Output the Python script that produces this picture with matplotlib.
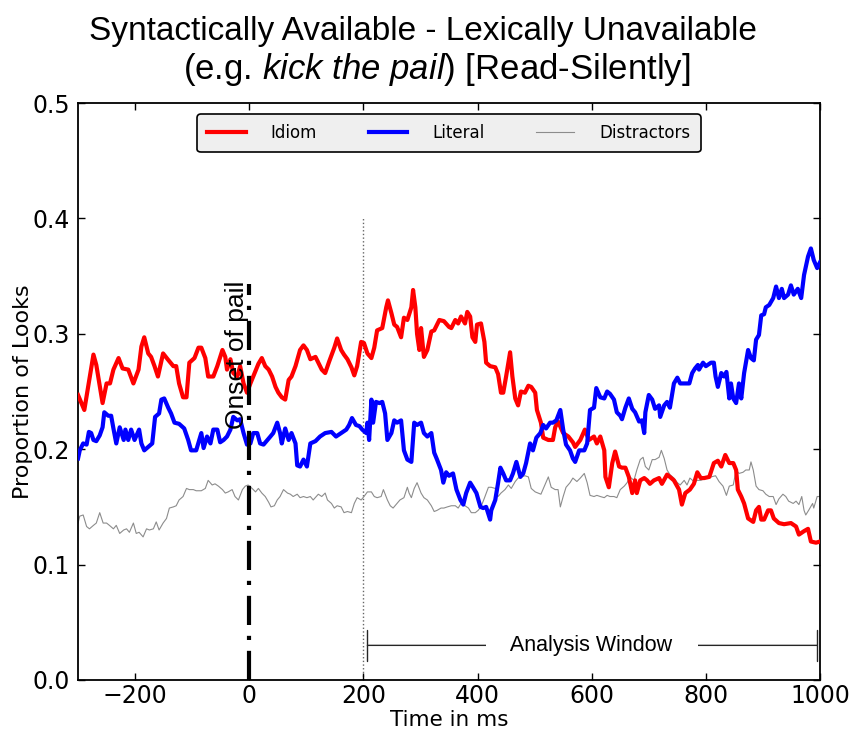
import matplotlib
matplotlib.use("Agg")
import matplotlib.pyplot as plt

# time (ms) / proportion pairs
idiom_t = [-300, -289, -273, -268, -257, -250, -244, -238, -229, -222, -212, -203, -194, -189, -184, -177, -172, -166,
           -160, -151, -143, -133, -128, -123, -116, -110, -105, -96, -89, -84, -77, -72, -63, -56, -47, -42, -39, -33,
           -28, -21, -16, -10, -4, 2, 7, 16, 22, 28, 34, 40, 46, 51, 57, 63, 69, 74, 81, 89, 95, 101, 107, 116, 121,
           127, 133, 140, 149, 154, 161, 166, 172, 179, 184, 189, 196, 201, 207, 214, 219, 224, 233, 240, 243, 249,
           254, 259, 266, 271, 277, 284, 287, 291, 294, 298, 301, 306, 312, 319, 324, 333, 341, 350, 354, 361, 366,
           371, 378, 382, 387, 391, 396, 399, 406, 412, 415, 422, 431, 436, 441, 445, 450, 457, 461, 466, 471, 476,
           483, 489, 494, 501, 504, 511, 515, 524, 532, 536, 541, 550, 559, 567, 571, 580, 588, 595, 604, 609, 615,
           622, 624, 630, 636, 641, 648, 653, 659, 665, 671, 676, 679, 685, 692, 697, 702, 709, 718, 723, 732, 737,
           744, 753, 758, 764, 772, 779, 785, 791, 797, 806, 814, 821, 827, 834, 841, 848, 853, 856, 862, 867, 874,
           883, 888, 893, 897, 902, 909, 914, 919, 928, 937, 949, 958, 963, 972, 979, 984, 993, 1000]
idiom_y = [0.247, 0.234, 0.282, 0.273, 0.240, 0.257, 0.257, 0.269, 0.279, 0.270, 0.269, 0.257, 0.269, 0.289, 0.297,
           0.283, 0.280, 0.272, 0.263, 0.283, 0.278, 0.272, 0.272, 0.257, 0.245, 0.245, 0.275, 0.279, 0.288, 0.288,
           0.279, 0.263, 0.263, 0.272, 0.286, 0.280, 0.269, 0.278, 0.266, 0.263, 0.272, 0.257, 0.249, 0.257, 0.263,
           0.274, 0.279, 0.272, 0.269, 0.263, 0.254, 0.249, 0.245, 0.243, 0.260, 0.263, 0.272, 0.286, 0.290, 0.286,
           0.278, 0.280, 0.275, 0.269, 0.266, 0.276, 0.288, 0.296, 0.286, 0.282, 0.278, 0.271, 0.264, 0.272, 0.293,
           0.292, 0.283, 0.279, 0.288, 0.303, 0.305, 0.323, 0.329, 0.318, 0.308, 0.306, 0.297, 0.314, 0.312, 0.323,
           0.338, 0.323, 0.300, 0.286, 0.305, 0.280, 0.286, 0.302, 0.303, 0.312, 0.311, 0.306, 0.305, 0.312, 0.309,
           0.315, 0.309, 0.319, 0.315, 0.297, 0.293, 0.308, 0.309, 0.293, 0.275, 0.272, 0.271, 0.265, 0.249, 0.249,
           0.263, 0.284, 0.263, 0.244, 0.238, 0.250, 0.249, 0.255, 0.254, 0.249, 0.234, 0.223, 0.210, 0.208, 0.208,
           0.219, 0.224, 0.214, 0.211, 0.206, 0.202, 0.208, 0.217, 0.208, 0.211, 0.205, 0.211, 0.199, 0.176, 0.167,
           0.188, 0.198, 0.185, 0.184, 0.184, 0.176, 0.162, 0.173, 0.162, 0.173, 0.175, 0.173, 0.170, 0.173, 0.175,
           0.170, 0.178, 0.176, 0.173, 0.165, 0.152, 0.162, 0.165, 0.170, 0.180, 0.175, 0.175, 0.176, 0.188, 0.190,
           0.185, 0.195, 0.188, 0.188, 0.182, 0.165, 0.159, 0.153, 0.140, 0.137, 0.147, 0.150, 0.139, 0.139, 0.147,
           0.147, 0.140, 0.136, 0.135, 0.136, 0.133, 0.126, 0.129, 0.131, 0.120, 0.119, 0.120]

literal_t = [-300, -297, -291, -285, -281, -277, -273, -268, -262, -257, -254, -247, -242, -238, -233, -227, -220, -217,
             -212, -207, -201, -193, -189, -184, -177, -170, -165, -158, -154, -149, -142, -137, -131, -123, -114, -107,
             -102, -93, -84, -80, -74, -68, -63, -56, -51, -45, -39, -33, -28, -21, -16, -10, -4, 2, 7, 14, 19, 25, 32,
             37, 42, 49, 54, 57, 63, 69, 74, 81, 84, 89, 95, 101, 107, 116, 124, 133, 144, 152, 161, 170, 175, 180, 187,
             193, 198, 205, 207, 210, 214, 217, 222, 228, 233, 238, 242, 249, 254, 259, 266, 271, 277, 284, 289, 294,
             301, 306, 312, 319, 324, 329, 336, 340, 345, 350, 357, 363, 370, 375, 380, 387, 392, 398, 405, 410, 415,
             422, 424, 431, 436, 440, 445, 450, 457, 462, 468, 475, 480, 485, 492, 497, 503, 510, 515, 520, 527, 532,
             538, 545, 550, 555, 562, 567, 571, 578, 587, 592, 597, 604, 608, 615, 622, 627, 632, 639, 644, 650, 653,
             659, 665, 671, 676, 683, 688, 692, 694, 700, 706, 711, 718, 720, 727, 732, 737, 744, 750, 755, 764, 771,
             776, 781, 786, 788, 795, 800, 809, 814, 817, 821, 827, 832, 836, 841, 844, 848, 853, 858, 862, 867, 874,
             879, 884, 888, 893, 897, 902, 905, 911, 918, 923, 928, 933, 937, 944, 949, 954, 961, 967, 972, 979, 984,
             989, 995, 1000]
literal_y = [0.192, 0.199, 0.205, 0.204, 0.215, 0.214, 0.208, 0.207, 0.212, 0.219, 0.232, 0.229, 0.229, 0.218, 0.205,
             0.219, 0.208, 0.217, 0.208, 0.217, 0.208, 0.217, 0.205, 0.199, 0.202, 0.205, 0.228, 0.231, 0.243, 0.244,
             0.236, 0.231, 0.223, 0.222, 0.218, 0.208, 0.199, 0.199, 0.214, 0.201, 0.211, 0.205, 0.217, 0.217, 0.206,
             0.208, 0.211, 0.217, 0.228, 0.225, 0.226, 0.214, 0.204, 0.205, 0.214, 0.214, 0.205, 0.204, 0.208, 0.211,
             0.214, 0.223, 0.214, 0.205, 0.218, 0.208, 0.214, 0.205, 0.186, 0.185, 0.191, 0.185, 0.205, 0.207, 0.211,
             0.214, 0.215, 0.211, 0.214, 0.217, 0.221, 0.227, 0.221, 0.220, 0.217, 0.214, 0.223, 0.208, 0.243, 0.223,
             0.241, 0.240, 0.241, 0.231, 0.208, 0.214, 0.225, 0.223, 0.225, 0.199, 0.191, 0.189, 0.223, 0.221, 0.223,
             0.214, 0.211, 0.214, 0.197, 0.191, 0.182, 0.171, 0.180, 0.177, 0.179, 0.165, 0.156, 0.152, 0.162, 0.171,
             0.167, 0.162, 0.150, 0.149, 0.150, 0.139, 0.147, 0.156, 0.171, 0.184, 0.179, 0.173, 0.173, 0.179, 0.189,
             0.176, 0.179, 0.188, 0.205, 0.199, 0.210, 0.214, 0.221, 0.218, 0.223, 0.223, 0.225, 0.234, 0.217, 0.204,
             0.199, 0.192, 0.189, 0.199, 0.199, 0.205, 0.234, 0.236, 0.253, 0.245, 0.244, 0.250, 0.248, 0.243, 0.232,
             0.229, 0.226, 0.236, 0.244, 0.235, 0.232, 0.224, 0.225, 0.214, 0.232, 0.247, 0.243, 0.235, 0.238, 0.228,
             0.238, 0.241, 0.236, 0.257, 0.262, 0.257, 0.257, 0.257, 0.266, 0.270, 0.273, 0.269, 0.275, 0.272, 0.275,
             0.275, 0.263, 0.254, 0.266, 0.263, 0.267, 0.244, 0.257, 0.244, 0.240, 0.257, 0.244, 0.266, 0.286, 0.279,
             0.277, 0.295, 0.299, 0.316, 0.317, 0.323, 0.325, 0.331, 0.341, 0.331, 0.339, 0.331, 0.334, 0.342, 0.334,
             0.339, 0.331, 0.351, 0.367, 0.374, 0.364, 0.357, 0.362]

distr_t = [-300, -297, -291, -285, -280, -273, -268, -262, -256, -250, -245, -238, -233, -227, -220, -215, -210, -203,
           -198, -193, -186, -180, -175, -168, -163, -158, -151, -145, -140, -133, -128, -123, -116, -110, -105, -98,
           -93, -84, -77, -72, -65, -60, -54, -47, -42, -37, -30, -25, -19, -12, -7, -2, 5, 11, 16, 22, 28, 34, 38,
           44, 49, 54, 60, 67, 72, 77, 84, 89, 95, 101, 107, 112, 121, 127, 133, 137, 144, 149, 154, 161, 166, 172,
           179, 184, 189, 196, 201, 207, 214, 219, 224, 231, 235, 242, 247, 252, 259, 264, 271, 277, 280, 284, 289,
           294, 301, 306, 312, 319, 324, 329, 336, 341, 347, 354, 361, 366, 371, 378, 384, 389, 396, 401, 406, 413,
           419, 424, 431, 436, 441, 448, 454, 459, 466, 471, 476, 483, 489, 494, 501, 506, 511, 518, 524, 529, 536,
           541, 545, 550, 555, 562, 567, 574, 580, 587, 592, 597, 604, 609, 615, 622, 627, 632, 639, 644, 650, 657,
           662, 667, 674, 679, 685, 690, 694, 700, 706, 711, 718, 722, 727, 732, 737, 744, 750, 755, 762, 767, 772,
           779, 785, 791, 800, 809, 817, 823, 830, 836, 841, 848, 853, 858, 865, 870, 876, 879, 883, 888, 893, 900,
           905, 911, 918, 923, 928, 935, 940, 945, 953, 958, 963, 968, 972, 975, 980, 987, 989, 995, 1000]
distr_y = [0.136, 0.142, 0.143, 0.133, 0.131, 0.134, 0.136, 0.145, 0.136, 0.136, 0.134, 0.131, 0.134, 0.127, 0.130,
           0.131, 0.128, 0.136, 0.127, 0.128, 0.124, 0.131, 0.130, 0.131, 0.137, 0.130, 0.136, 0.140, 0.149, 0.150,
           0.151, 0.156, 0.159, 0.166, 0.165, 0.165, 0.164, 0.164, 0.166, 0.173, 0.169, 0.170, 0.168, 0.165, 0.162,
           0.163, 0.165, 0.159, 0.156, 0.165, 0.168, 0.169, 0.166, 0.163, 0.166, 0.162, 0.159, 0.154, 0.150, 0.151,
           0.156, 0.159, 0.165, 0.162, 0.161, 0.159, 0.161, 0.158, 0.159, 0.158, 0.159, 0.156, 0.161, 0.159, 0.162,
           0.156, 0.153, 0.149, 0.151, 0.150, 0.145, 0.146, 0.145, 0.153, 0.158, 0.156, 0.159, 0.163, 0.163, 0.159,
           0.158, 0.159, 0.165, 0.156, 0.151, 0.149, 0.153, 0.156, 0.158, 0.167, 0.162, 0.158, 0.166, 0.171, 0.162,
           0.158, 0.156, 0.151, 0.146, 0.147, 0.149, 0.149, 0.150, 0.151, 0.151, 0.149, 0.153, 0.151, 0.149, 0.145,
           0.145, 0.147, 0.150, 0.159, 0.167, 0.167, 0.166, 0.159, 0.162, 0.165, 0.169, 0.166, 0.172, 0.175, 0.176,
           0.177, 0.176, 0.166, 0.163, 0.162, 0.161, 0.169, 0.176, 0.167, 0.165, 0.165, 0.150, 0.159, 0.167, 0.171,
           0.175, 0.172, 0.175, 0.179, 0.171, 0.160, 0.159, 0.160, 0.159, 0.158, 0.160, 0.159, 0.159, 0.158, 0.165,
           0.168, 0.171, 0.176, 0.173, 0.182, 0.191, 0.193, 0.185, 0.182, 0.191, 0.191, 0.193, 0.199, 0.192, 0.182,
           0.178, 0.175, 0.171, 0.169, 0.173, 0.169, 0.175, 0.172, 0.173, 0.173, 0.175, 0.176, 0.177, 0.172, 0.168,
           0.160, 0.168, 0.169, 0.182, 0.179, 0.180, 0.182, 0.182, 0.189, 0.182, 0.168, 0.165, 0.164, 0.161, 0.159,
           0.159, 0.152, 0.157, 0.161, 0.159, 0.155, 0.153, 0.155, 0.152, 0.159, 0.147, 0.143, 0.147, 0.153, 0.149,
           0.159, 0.159]

onset = 0
window_start = 200
analysis_from, analysis_to = 207, 995

plt.rcParams['font.family'] = 'DejaVu Sans'
plt.rcParams['mathtext.fontset'] = 'custom'
plt.rcParams['mathtext.rm'] = 'Liberation Sans'
plt.rcParams['mathtext.it'] = 'Liberation Sans:italic'

fig = plt.figure(figsize=(8.51, 7.31), dpi=100)
ax = fig.add_axes([0.0917, 0.0698, 0.8719, 0.7892])

ax.plot(idiom_t, idiom_y, color='red', lw=3, label='Idiom', zorder=3)
ax.plot(literal_t, literal_y, color='blue', lw=3, label='Literal', zorder=3)
ax.plot(distr_t, distr_y, color='0.55', lw=0.8, label='Distractors', zorder=2)

# onset of target word
ax.plot([onset, onset], [0, 0.343], color='black', lw=3, linestyle=(0, (7, 2.6, 1, 2.6)), zorder=4)
ax.text(-21, 0.282, 'Onset of pail', rotation=90, ha='center', va='center',
        fontsize=19, family='Liberation Sans', zorder=5)
ax.plot([window_start, window_start], [0, 0.4], color='0.4', lw=1, linestyle=':', zorder=1)

# analysis window bracket
ax.annotate('', xy=(analysis_from, 0.03), xytext=(analysis_to, 0.03),
            arrowprops=dict(arrowstyle='|-|,widthA=0.55,widthB=0.55', lw=1, color='0.15',
                            shrinkA=0, shrinkB=0, mutation_scale=20))
ax.text(600, 0.03, '    Analysis Window    ', ha='center', va='center', fontsize=15.5,
        family='Liberation Sans', bbox=dict(facecolor='white', edgecolor='none', pad=1), zorder=6)

ax.set_xlim(-300, 1000)
ax.set_ylim(0, 0.5)
ax.set_xticks([-200, 0, 200, 400, 600, 800, 1000])
ax.set_yticks([0.0, 0.1, 0.2, 0.3, 0.4, 0.5])
ax.tick_params(direction='in', top=True, right=True, labelsize=17, length=5, width=1, pad=6)
ax.tick_params(axis='x', pad=3)
for s in ax.spines.values():
    s.set_linewidth(1.3)

ax.set_xlabel('Time in ms', fontsize=15.5, labelpad=1)
ax.set_ylabel('Proportion of Looks', fontsize=16, labelpad=-1)
fig.text(0.4965, 0.978, 'Syntactically Available - Lexically Unavailable',
         ha='center', va='top', fontsize=24, family='Liberation Sans')
fig.text(0.513, 0.93, '(e.g. $\\mathit{kick\\ the\\ pail}$) [Read-Silently]',
         ha='center', va='top', fontsize=25, family='Liberation Sans')

leg = ax.legend(loc='upper center', ncol=3, fontsize=12, fancybox=True, framealpha=1,
                facecolor='#efefef', edgecolor='black', handlelength=2.3, handletextpad=1.5,
                columnspacing=3.1, borderpad=0.6, bbox_to_anchor=(0.5, 0.995))
leg.get_frame().set_linewidth(1.2)

fig.savefig('out.png', dpi=100)
